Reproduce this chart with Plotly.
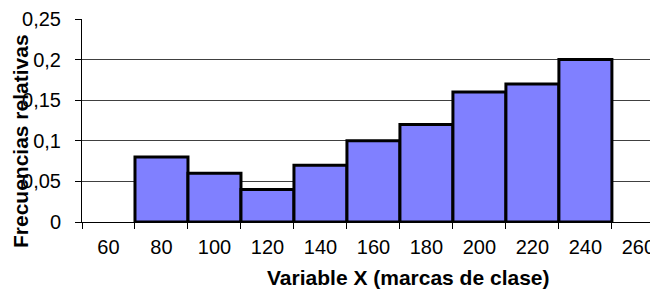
import plotly.graph_objects as go

class_marks = [80, 100, 120, 140, 160, 180, 200, 220, 240]
rel_freq = [0.08, 0.06, 0.04, 0.07, 0.10, 0.12, 0.16, 0.17, 0.20]
x_tick_vals = [60, 80, 100, 120, 140, 160, 180, 200, 220, 240, 260]
x_tick_text = ["60", "80", "100", "120", "140", "160", "180", "200", "220", "240", "260"]
y_tick_vals = [0, 0.05, 0.10, 0.15, 0.20, 0.25]
y_tick_text = ["0", "0,05", "0,1", "0,15", "0,2", "0,25"]
class_width = 20
boundaries = [v - class_width / 2 for v in x_tick_vals] + [x_tick_vals[-1] + class_width / 2]

FONT = "Liberation Sans, Arial, sans-serif"

fig = go.Figure()
fig.add_trace(go.Bar(
    x=class_marks, y=rel_freq, width=class_width,
    marker=dict(color="#8080FF", line=dict(color="black", width=3)),
    hoverinfo="x+y",
))

# page has an 8px body margin, so the figure is 8px smaller and offset
fig.update_layout(
    width=650, height=281,
    margin=dict(l=74, r=0, t=11, b=67, autoexpand=False),
    paper_bgcolor="white", plot_bgcolor="white",
    showlegend=False,
    font=dict(family=FONT, size=20, color="black"),
    xaxis=dict(
        range=[50, 267.4], automargin=False,
        tickmode="array", tickvals=x_tick_vals, ticktext=x_tick_text,
        ticks="", showgrid=False, zeroline=False,
        showline=True, linecolor="black", linewidth=1,
        tickfont=dict(family=FONT, size=20, color="black"),
        ticklabelstandoff=7,
        minor=dict(tickmode="array", tickvals=boundaries, ticks="outside",
                   ticklen=6, tickwidth=1, tickcolor="black", showgrid=False),
    ),
    yaxis=dict(
        range=[0, 0.25], automargin=False,
        tickmode="array", tickvals=y_tick_vals, ticktext=y_tick_text,
        ticks="outside", ticklen=6, tickwidth=1, tickcolor="black",
        showgrid=True, gridcolor="#404040", gridwidth=1,
        zeroline=False,
        showline=True, linecolor="black", linewidth=1,
        tickfont=dict(family=FONT, size=20, color="black"),
        ticklabelstandoff=10,
    ),
    annotations=[
        dict(text="<b>Variable X (marcas de clase)</b>", xref="paper", yref="paper",
             x=0.567, y=-0.271, xanchor="center", yanchor="middle", showarrow=False,
             font=dict(family=FONT, size=21, color="black")),
        dict(text="<b>Frecuencias relativas</b>", xref="paper", yref="paper",
             x=-0.1076, y=0.399, xanchor="center", yanchor="middle", showarrow=False,
             textangle=-90, font=dict(family=FONT, size=21, color="black")),
    ],
)

fig.write_html("out.html")
